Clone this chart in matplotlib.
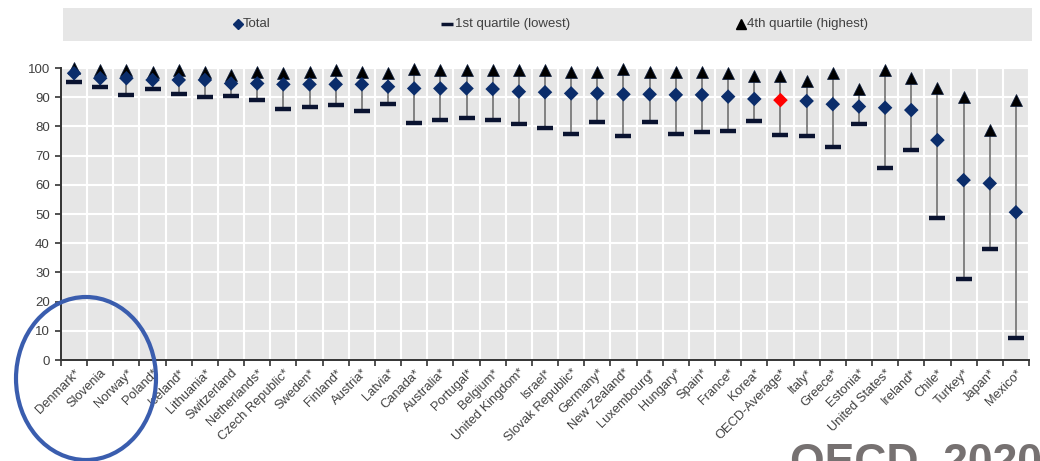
import matplotlib
matplotlib.use("Agg")
import matplotlib.pyplot as plt
from matplotlib.patches import Ellipse
import numpy as np

countries = ["Denmark*", "Slovenia", "Norway*", "Poland*", "Iceland*", "Lithuania*",
             "Switzerland", "Netherlands*", "Czech Republic*", "Sweden*", "Finland*",
             "Austria*", "Latvia*", "Canada*", "Australia*", "Portugal*", "Belgium*",
             "United Kingdom*", "Israel*", "Slovak Republic*", "Germany*", "New Zealand*",
             "Luxembourg*", "Hungary*", "Spain*", "France*", "Korea*", "OECD-Average*",
             "Italy*", "Greece*", "Estonia*", "United States*", "Ireland*", "Chile*",
             "Turkey*", "Japan*", "Mexico*"]

total = [98.2, 96.5, 96.5, 95.9, 95.9, 95.9, 94.7, 94.7, 94.4, 94.4, 94.4, 94.4,
         93.6, 93.0, 93.0, 93.0, 92.8, 91.9, 91.7, 91.3, 91.3, 91.0, 91.0, 90.8,
         90.8, 90.2, 89.4, 89.0, 88.7, 87.6, 86.8, 86.4, 85.6, 75.3, 61.6, 60.5, 50.6]

q1_lowest = [95.3, 93.5, 90.8, 92.8, 91.2, 90.1, 90.5, 89.1, 85.9, 86.6, 87.2, 85.3,
             87.7, 81.2, 82.3, 83.0, 82.2, 80.7, 79.6, 77.4, 81.4, 76.8, 81.4, 77.4,
             78.0, 78.4, 81.8, 77.2, 76.7, 73.1, 80.7, 65.6, 71.9, 48.7, 27.6, 37.9, 7.4]

q4_highest = [99.9, 99.3, 99.3, 98.7, 99.3, 98.7, 97.6, 98.7, 98.2, 98.7, 99.3, 98.7,
              98.2, 99.7, 99.3, 99.3, 99.3, 99.3, 99.3, 98.5, 98.7, 99.7, 98.7, 98.7,
              98.7, 98.2, 97.4, 97.4, 95.5, 98.2, 92.8, 99.3, 96.5, 93.3, 90.2, 78.8, 89.0]

highlight = "OECD-Average*"
legend_labels = ["Total", "1st quartile (lowest)", "4th quartile (highest)"]
yticks = [0, 10, 20, 30, 40, 50, 60, 70, 80, 90, 100]

NAVY = "#0b2d6b"
DASH = "#0a1330"
plt.rcParams["font.family"] = ["Liberation Sans", "DejaVu Sans"]

W, H = 1040, 461
fig = plt.figure(figsize=(W / 100, H / 100), dpi=100)
fig.patch.set_facecolor("white")

ax = fig.add_axes([61 / W, 1 - 360 / H, 968 / W, 292 / H])
ax.set_facecolor("#e6e6e6")

x = np.arange(len(countries))
ax.vlines(x, q1_lowest, q4_highest, color="#7a7a7a", lw=1.3, zorder=3)
ax.plot(x, q1_lowest, ls="none", marker="_", ms=11, mew=3.2, color=DASH, zorder=4, clip_on=False)
ax.plot(x, q4_highest, ls="none", marker="^", ms=9, color="black", mec="#0b1c3d",
        mew=0.5, zorder=5, clip_on=False)
cols = ["#ff0000" if c == highlight else NAVY for c in countries]
ax.scatter(x, total, marker="D", s=55, c=cols, edgecolors="none", zorder=6, clip_on=False)

ax.set_xlim(-0.5, len(countries) - 0.5)
ax.set_ylim(0, 100)
ax.set_yticks(yticks)
ax.set_yticklabels([str(v) for v in yticks], fontsize=9.5, color="#404040")
ax.set_xticks(x)
ax.set_xticklabels(countries, rotation=45, ha="right", va="top", rotation_mode="anchor",
                   fontsize=9.3, color="#404040")
ax.set_xticks(np.arange(-0.5, len(countries)), minor=True)
ax.tick_params(axis="x", which="major", length=0, pad=5)
ax.tick_params(axis="x", which="minor", length=4, width=1.2, color="#333333", direction="out")
ax.tick_params(axis="y", length=4, width=1.2, color="#333333", direction="out", pad=4)

ax.grid(axis="y", which="major", color="white", lw=1.5, zorder=0)
ax.grid(axis="x", which="minor", color="white", lw=1.5, zorder=0)
ax.grid(axis="x", which="major", visible=False)
ax.set_axisbelow(True)
for s in ["top", "right"]:
    ax.spines[s].set_visible(False)
for s in ["left", "bottom"]:
    ax.spines[s].set_color("#333333")
    ax.spines[s].set_linewidth(1.4)

# legend band
lax = fig.add_axes([63 / W, 1 - 41 / H, 969 / W, 33 / H])
lax.set_facecolor("#e6e6e6")
lax.set_xlim(0, 1)
lax.set_ylim(0, 1)
lax.set_xticks([])
lax.set_yticks([])
for s in lax.spines.values():
    s.set_visible(False)
lax.plot([0.1808], [0.5], marker="D", ms=5.5, color=NAVY, ls="none")
lax.text(0.1860, 0.5, legend_labels[0], va="center", ha="left", fontsize=9.5, color="#404040")
lax.plot([0.3960], [0.5], marker="_", ms=8, mew=2.5, color=DASH, ls="none")
lax.text(0.4045, 0.5, legend_labels[1], va="center", ha="left", fontsize=9.5, color="#404040")
lax.plot([0.7000], [0.5], marker="^", ms=7, color="black", ls="none")
lax.text(0.7060, 0.5, legend_labels[2], va="center", ha="left", fontsize=9.5, color="#404040")

# annotation ellipse and source
fig.patches.append(Ellipse((86 / W, 1 - 378.5 / H), 140 / W, 163 / H,
                           transform=fig.transFigure, fill=False,
                           edgecolor="#3a5dae", lw=3, zorder=10))
fig.text(790 / W, 1 - 475 / H, "OECD, 2020", fontsize=32, fontweight="bold",
         color="#767171", ha="left", va="baseline")

fig.savefig("out.png", dpi=100)
